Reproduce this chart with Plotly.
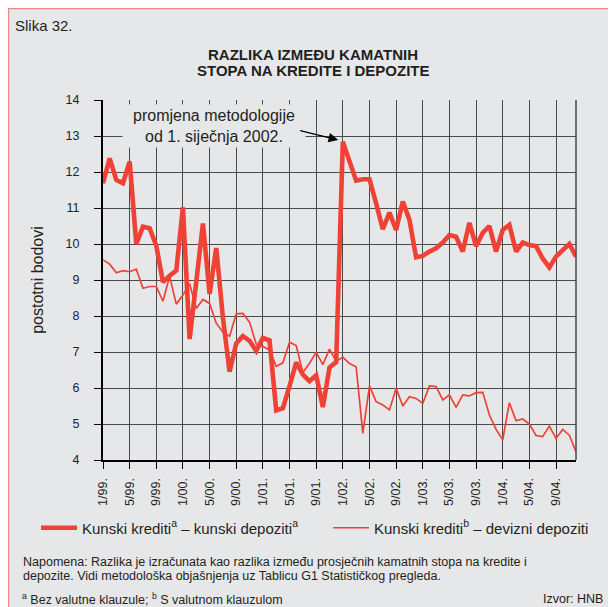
import plotly.graph_objects as go

# month labels 1/99. ... 12/04.
months = [f"{m}/{y % 100:02d}." for y in range(1999, 2005) for m in range(1, 13)]
tick_months = months[::4]

# kunski krediti (a) - kunski depoziti (a)
kk_kd = [
    11.69, 12.38, 11.78, 11.69, 12.29, 10.00, 10.48, 10.44, 9.95, 8.94, 9.12, 9.26,
    11.02, 7.36, 8.95, 10.57, 8.61, 9.89, 7.95, 6.45, 7.24, 7.44, 7.31, 7.03,
    7.39, 7.32, 5.38, 5.44, 6.05, 6.71, 6.37, 6.19, 6.35, 5.47, 6.57, 6.72,
    12.84, 12.29, 11.76, 11.80, 11.80, 11.13, 10.41, 10.87, 10.39, 11.18, 10.67, 9.63,
    9.67, 9.79, 9.88, 10.04, 10.25, 10.20, 9.79, 10.59, 9.94, 10.31, 10.50, 9.79,
    10.39, 10.53, 9.79, 10.04, 9.97, 9.94, 9.60, 9.35, 9.65, 9.83, 10.00, 9.65,
]

# kunski krediti (b) - devizni depoziti
kk_dd = [
    9.56, 9.44, 9.20, 9.26, 9.23, 9.30, 8.77, 8.82, 8.82, 8.41, 9.10, 8.33,
    8.58, 8.90, 8.21, 8.46, 8.35, 7.80, 7.55, 7.44, 8.06, 8.07, 7.83, 7.22,
    7.16, 7.05, 6.60, 6.70, 7.27, 7.18, 6.43, 6.69, 6.99, 6.65, 7.08, 6.74,
    6.86, 6.68, 6.59, 4.74, 6.06, 5.62, 5.53, 5.39, 5.99, 5.50, 5.76, 5.71,
    5.57, 6.06, 6.04, 5.67, 5.81, 5.46, 5.81, 5.78, 5.87, 5.88, 5.25, 4.85,
    4.56, 5.59, 5.09, 5.14, 5.00, 4.68, 4.65, 4.94, 4.60, 4.85, 4.69, 4.23,
]

RED = "#ef4136"
TXT = "#231f20"
BG = "#e6e7e8"
GRID = "#4a4a4a"
FONT = "Liberation Sans, Arial, sans-serif"

# the page body has an 8px margin, so the figure is 8px smaller and
# positions below are given in window pixels and shifted
OFF = 8
FIG_W, FIG_H = 616 - OFF, 607 - OFF
# plot area in window pixels: x 103..576, y 100..460
L, T, W, H = 103 - OFF, 100 - OFF, 473, 360


def px(x):
    return (x - OFF - L) / W


def py(y):
    return 1 - (y - OFF - T) / H


fig = go.Figure()
fig.add_trace(go.Scatter(
    x=months, y=kk_kd, mode="lines",
    line={"color": RED, "width": 4.6},
    name="Kunski krediti<sup>a</sup> – kunski depoziti<sup>a</sup>",
    legend="legend",
))
fig.add_trace(go.Scatter(
    x=months, y=kk_dd, mode="lines",
    line={"color": RED, "width": 1.7},
    name="Kunski krediti<sup>b</sup> – devizni depoziti",
    legend="legend2",
))

legend_style = dict(
    orientation="h", yanchor="middle", y=py(528), xanchor="left",
    font={"size": 15, "color": TXT, "family": FONT},
    bgcolor="rgba(0,0,0,0)", itemwidth=36, borderwidth=0,
)

fig.update_layout(
    width=FIG_W, height=FIG_H,
    margin={"l": L, "r": FIG_W - L - W, "t": T, "b": FIG_H - T - H},
    paper_bgcolor=BG,
    plot_bgcolor=BG,
    font={"family": FONT, "color": TXT},
    legend={**legend_style, "x": px(36)},
    legend2={**legend_style, "x": px(328)},
    showlegend=True,
)

fig.update_xaxes(
    type="category", range=[0, 71],
    tickmode="array", tickvals=tick_months, ticktext=tick_months,
    tickangle=-90, tickfont={"size": 12.5, "color": TXT},
    ticks="outside", ticklen=7, tickcolor="black", tickwidth=1.2,
    showgrid=True, gridcolor=GRID, gridwidth=1.3,
    showline=True, linecolor="black", linewidth=2.2,
    ticklabelstandoff=4, zeroline=False,
)
fig.update_yaxes(
    range=[4, 14], dtick=1,
    tickfont={"size": 12.5, "color": TXT},
    ticks="outside", ticklen=7, tickcolor="black", tickwidth=1.2,
    showgrid=True, gridcolor=GRID, gridwidth=1.3,
    showline=True, linecolor="black", linewidth=2.2,
    ticklabelstandoff=12, zeroline=False,
    title={"text": "postotni bodovi", "font": {"size": 16, "color": TXT}, "standoff": 18},
)

# page frame (left/top edge) and right border of the plot
fig.add_shape(type="rect", xref="paper", yref="paper",
              x0=px(8.6), x1=px(640), y0=py(640), y1=py(8.6),
              line={"color": "#ee8a84", "width": 1.2}, layer="below")
fig.add_shape(type="line", xref="paper", yref="paper",
              x0=1, x1=1, y0=0, y1=1, line={"color": GRID, "width": 1.5})

ann = [
    dict(text="Slika 32.", x=px(13), y=py(25), xanchor="left", size=15, bold=False),
    dict(text="RAZLIKA IZMEĐU KAMATNIH", x=px(313), y=py(54.5), xanchor="center", size=15, bold=True),
    dict(text="STOPA NA KREDITE I DEPOZITE", x=px(313), y=py(70.5), xanchor="center", size=15, bold=True),
    dict(text="Napomena: Razlika je izračunata kao razlika između prosječnih kamatnih stopa na kredite i",
         x=px(21), y=py(561.5), xanchor="left", size=12.5, bold=False),
    dict(text="depozite. Vidi metodološka objašnjenja uz Tablicu G1 Statističkog pregleda.",
         x=px(21), y=py(575.5), xanchor="left", size=12.5, bold=False),
    dict(text="<sup>a</sup> Bez valutne klauzule; <sup>b</sup> S valutnom klauzulom",
         x=px(20), y=py(599), xanchor="left", size=12.5, bold=False),
    dict(text="Izvor: HNB", x=px(605), y=py(599), xanchor="right", size=12.5, bold=False),
]
for a in ann:
    txt = f"<b>{a['text']}</b>" if a["bold"] else a["text"]
    fig.add_annotation(
        text=txt, x=a["x"], y=a["y"], xref="paper", yref="paper",
        xanchor=a["xanchor"], yanchor="middle", showarrow=False,
        font={"size": a["size"], "color": TXT, "family": FONT},
    )

# methodology note with a box that hides the grid
fig.add_annotation(
    text="promjena metodologije<br>od 1. siječnja 2002.",
    x=px(214), y=py(126), xref="paper", yref="paper",
    xanchor="center", yanchor="middle", showarrow=False,
    width=182, height=42, borderpad=0, bgcolor=BG,
    font={"size": 16, "color": TXT, "family": FONT},
)
fig.add_annotation(
    text=" ", x=35.3, y=12.89, xref="x", yref="y",
    ax=-41, ay=-10, showarrow=True,
    arrowhead=2, arrowsize=1.6, arrowwidth=1.2, arrowcolor="black",
)

fig.write_html("out.html")
